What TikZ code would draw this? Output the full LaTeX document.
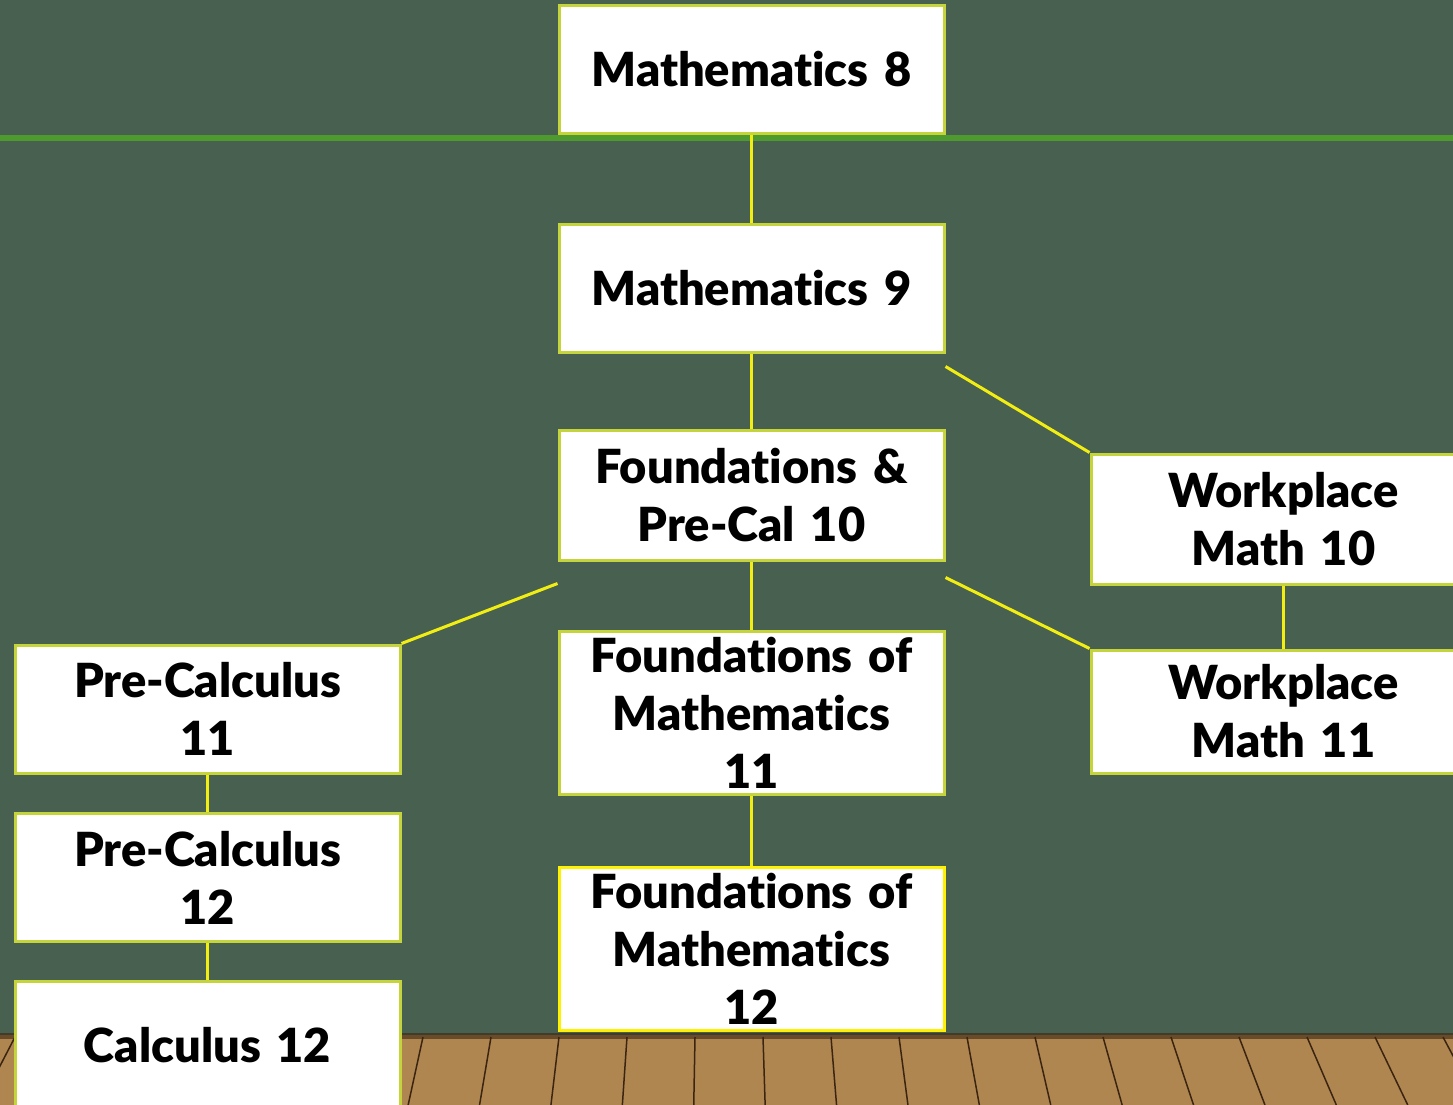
\documentclass[tikz,border=0pt]{standalone}
\usepackage{fontspec}
\setmainfont{Lato}[Ligatures=NoCommon, BoldFont={Lato Black}]
\usetikzlibrary{positioning, calc}

\definecolor{board}{HTML}{47604F}
\definecolor{rail}{HTML}{4E9A2F}
\definecolor{boxedge}{HTML}{C6D43C}
\definecolor{linkyellow}{HTML}{F2EE14}
\definecolor{wood}{HTML}{B08650}
\definecolor{plank}{HTML}{3A2412}

\begin{document}
\begin{tikzpicture}[
    x=1pt, y=-1pt,
    course/.style={draw=boxedge, line width=3pt, fill=white,
      minimum width=385pt, minimum height=128pt, text width=370pt,
      align=center, inner sep=0pt,
      font=\fontsize{47}{58}\selectfont\bfseries},
    link/.style={draw=linkyellow, line width=3pt}
  ]
  \clip (0,0) rectangle (1453,1105);
  \fill[board] (0,0) rectangle (1453,1105);

  % floor
  \fill[wood] (0,1035) rectangle (1453,1105);
  \foreach \x in {15,83,...,1500}
    \draw[plank, line width=1.5pt] (\x,1037) -- ({\x+(\x-720)*0.05},1105);
  \fill[plank, opacity=0.6] (0,1033) rectangle (1453,1039);

  % green rail
  \fill[rail] (0,135) rectangle (1453,141);

  % courses
  \node[course] (m8)    at (751.5,69.5)  {Mathematics 8};
  \node[course] (m9)    at (751.5,288)   {Mathematics 9};
  \node[course, minimum height=130pt] (fpc10) at (751.5,495) {Foundations \&\\Pre-Cal 10};
  \node[course, minimum height=130pt] (wp10)  at (1283.5,519) {Workplace\\Math 10};
  \node[course, minimum height=123pt] (wp11)  at (1283.5,711.5) {Workplace\\Math 11};
  \node[course] (pc11)  at (207.5,709)   {Pre-Calculus\\11};
  \node[course] (pc12)  at (207.5,877.5) {Pre-Calculus\\12};
  \node[course] (calc12) at (207.5,1045) {Calculus 12};
  \node[course, minimum height=163pt] (fom11) at (751.5,712.5) {Foundations of\\Mathematics\\11};
  \node[course, minimum height=163pt, draw=yellow] (fom12) at (751.5,948.5) {Foundations of\\Mathematics\\12};

  % links
  \draw[link] (m8) -- (m9);
  \draw[link] (m9) -- (fpc10);
  \draw[link] ($(m9.south east)+(0,13)$) -- (wp10.north west);
  \draw[link] (fpc10) -- (fom11);
  \draw[link] ($(fpc10.south west)+(0,22)$) -- (pc11.north east);
  \draw[link] ($(fpc10.south east)+(0,16)$) -- (wp11.north west);
  \draw[link] (wp10.south) -- (wp11.north);
  \draw[link] (pc11) -- (pc12);
  \draw[link] (pc12) -- (calc12);
  \draw[link] (fom11) -- (fom12);
\end{tikzpicture}
\end{document}
